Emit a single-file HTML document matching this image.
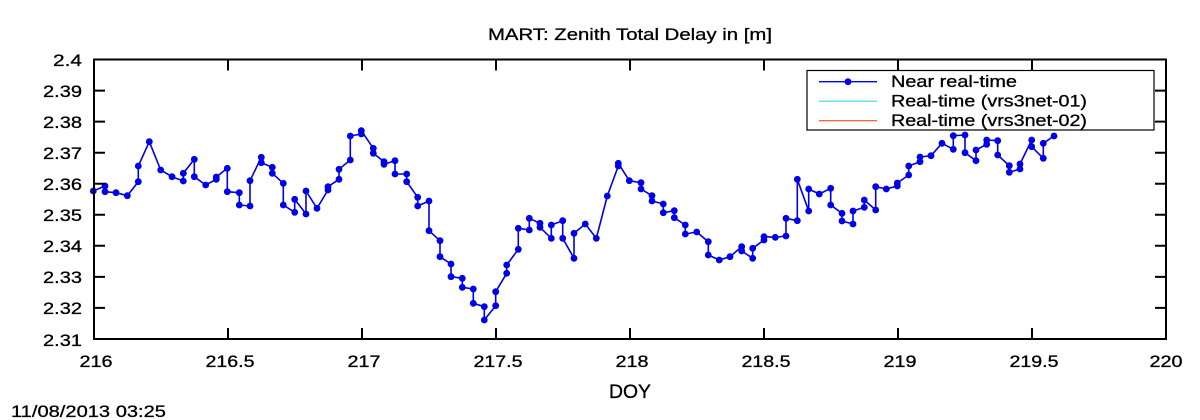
<!DOCTYPE html>
<html><head><meta charset="utf-8"><style>
html,body{margin:0;padding:0;background:#fff;}
svg{display:block;}
text{font-family:"Liberation Sans",Arial,sans-serif;fill:#000;stroke:#000;stroke-width:0.3;}
</style></head><body>
<svg width="1200" height="420" viewBox="0 0 1200 420" xmlns="http://www.w3.org/2000/svg">
<defs>
<marker id="dot" markerUnits="userSpaceOnUse" markerWidth="10" markerHeight="10" refX="5" refY="5" viewBox="0 0 10 10">
<circle cx="5" cy="5" r="3.4" fill="#0000e8"/>
</marker>
</defs>
<rect width="1200" height="420" fill="#fff"/>
<text x="630" y="40" font-size="17" text-anchor="middle" textLength="284" lengthAdjust="spacingAndGlyphs">MART: Zenith Total Delay in [m]</text>

<!-- data -->
<polyline fill="none" stroke="#0000e8" stroke-width="1.6" stroke-linejoin="round" marker-start="url(#dot)" marker-mid="url(#dot)" marker-end="url(#dot)" points="
93.3,191 105,186 105,191.7 116,192.7 127.3,195.7 138.3,181.7 138.3,166 149.3,141.7 160.7,170 172,176.7 183.3,181 183.3,173.3 194.3,159.3 194.3,176.7 205.7,185 216.3,179.3 216.3,177 227.3,168.3 227.3,191.7 239.3,192.7 239.3,205 250,206 250,180.7 261.3,157.3 261.3,162.7 272.3,167.3 272.3,173.3 283.3,183.3 283.3,205 294.7,212.3 294.7,199.3 306,214 306,191 317,208.3 328,190 328,186.7 339,179.3 339,169.3 350.3,160 350.3,136 361.3,134 361.3,130.7
373.3,148.3 373.3,153.3 384,161.7 384,164.3 395,160.7 395,174 406.7,174 406.7,181.7 417.7,197.3 417.7,206 429,201 429,230.7 440,240.7 440,256.7 451,264 451,276.7 462.3,278.3 462.3,287.3 473.3,289 473.3,303.3 484.3,306.7 484.3,320 495.7,305.7 495.7,291.7 506.7,273.3 506.7,265 518.3,249.3 518.3,228.3 529.3,230 529.3,218.3 540,223.3 540,227.3 551.3,238.3 551.3,225 562.7,220.7 562.7,238.3 574,258.3 574,233.3 585.3,224 596.3,238.3 607.3,196 618.3,166 618.3,163.3 629.3,180.7
641,182.7 641,189 652,195.7 652,201 663.3,204 663.3,212.7 674.3,210.7 674.3,217.7 685.3,225 685.3,234 696.7,232 708.3,241.7 708.3,255 719.3,260 730,256.7 741.7,246.7 741.7,251 752.7,258.3 752.7,248.3 764,240 764,236.7 775.3,237.3 786,236 786,218.3 797.3,220.7 797.3,179.3 808.7,211 808.7,189 819.3,194 830.7,188.3 830.7,205 842,213.3 842,221 853,224 853,211 864.3,207.3 864.3,200 875.7,210 875.7,186.7 886.3,189 897.3,186 897.3,183 908.7,175 908.7,166
920,161.7 920,157 931,155.7 942,143.3 953.3,149.3 953.3,135.7 965,135 965,152.7 976,160.7 976,150 986.7,144.3 986.7,140 997.7,140.7 997.7,155 1009.3,165.7 1009.3,172.3 1020,169 1020,164 1031.7,140 1031.7,146.7 1043.3,158.3 1043.3,143.3 1054,136"/>

<!-- axes box -->
<rect x="94" y="59.5" width="1072" height="279.5" fill="none" stroke="#000" stroke-width="2"/>
<!-- ticks -->
<g stroke="#000" stroke-width="2">
<path d="M228,339v-11M362,339v-11M496,339v-11M630,339v-11M764,339v-11M898,339v-11M1032,339v-11
M228,59.5v11M362,59.5v11M496,59.5v11M630,59.5v11M764,59.5v11M898,59.5v11M1032,59.5v11
M94,90.6h11M94,121.6h11M94,152.7h11M94,183.7h11M94,214.8h11M94,245.8h11M94,276.9h11M94,307.9h11
M1166,90.6h-11M1166,121.6h-11M1166,152.7h-11M1166,183.7h-11M1166,214.8h-11M1166,245.8h-11M1166,276.9h-11M1166,307.9h-11"/>
</g>
<!-- y labels -->
<g font-size="17" text-anchor="end">
<text x="82" y="66" textLength="29" lengthAdjust="spacingAndGlyphs">2.4</text>
<text x="82" y="97" textLength="39" lengthAdjust="spacingAndGlyphs">2.39</text>
<text x="82" y="128" textLength="39" lengthAdjust="spacingAndGlyphs">2.38</text>
<text x="82" y="159" textLength="39" lengthAdjust="spacingAndGlyphs">2.37</text>
<text x="82" y="190" textLength="39" lengthAdjust="spacingAndGlyphs">2.36</text>
<text x="82" y="221" textLength="39" lengthAdjust="spacingAndGlyphs">2.35</text>
<text x="82" y="252" textLength="39" lengthAdjust="spacingAndGlyphs">2.34</text>
<text x="82" y="283" textLength="39" lengthAdjust="spacingAndGlyphs">2.33</text>
<text x="82" y="314" textLength="39" lengthAdjust="spacingAndGlyphs">2.32</text>
<text x="82" y="346" textLength="39" lengthAdjust="spacingAndGlyphs">2.31</text>
</g>
<!-- x labels -->
<g font-size="17" text-anchor="middle">
<text x="96" y="367" textLength="33" lengthAdjust="spacingAndGlyphs">216</text>
<text x="230" y="367" textLength="49" lengthAdjust="spacingAndGlyphs">216.5</text>
<text x="364" y="367" textLength="33" lengthAdjust="spacingAndGlyphs">217</text>
<text x="498" y="367" textLength="49" lengthAdjust="spacingAndGlyphs">217.5</text>
<text x="632" y="367" textLength="33" lengthAdjust="spacingAndGlyphs">218</text>
<text x="766" y="367" textLength="49" lengthAdjust="spacingAndGlyphs">218.5</text>
<text x="900" y="367" textLength="33" lengthAdjust="spacingAndGlyphs">219</text>
<text x="1034" y="367" textLength="49" lengthAdjust="spacingAndGlyphs">219.5</text>
<text x="1166" y="367" textLength="33" lengthAdjust="spacingAndGlyphs">220</text>
</g>
<text x="630" y="398" font-size="19" text-anchor="middle" textLength="42" lengthAdjust="spacingAndGlyphs">DOY</text>
<text x="11" y="417" font-size="17" textLength="155" lengthAdjust="spacingAndGlyphs">11/08/2013 03:25</text>

<!-- legend -->
<rect x="807" y="70.5" width="347" height="59.5" fill="#fff" stroke="#000" stroke-width="1.2"/>
<line x1="819" y1="81.7" x2="877" y2="81.7" stroke="#0000e8" stroke-width="1.4"/>
<circle cx="848" cy="81.7" r="3.4" fill="#0000e8"/>
<line x1="819" y1="101.2" x2="877" y2="101.2" stroke="#33dddd" stroke-width="1.2"/>
<line x1="819" y1="120.7" x2="877" y2="120.7" stroke="#f05020" stroke-width="1.2"/>
<g font-size="17">
<text x="891" y="87" textLength="126" lengthAdjust="spacingAndGlyphs">Near real-time</text>
<text x="891" y="106.5" textLength="196" lengthAdjust="spacingAndGlyphs">Real-time (vrs3net-01)</text>
<text x="891" y="126" textLength="196" lengthAdjust="spacingAndGlyphs">Real-time (vrs3net-02)</text>
</g>
</svg>
</body></html>
